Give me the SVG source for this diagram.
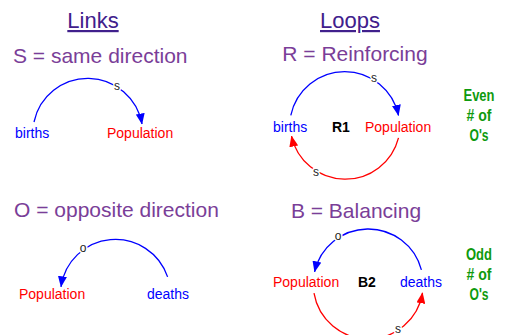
<svg xmlns="http://www.w3.org/2000/svg" width="505" height="335" viewBox="0 0 505 335">
<style>
  text { font-family: "Liberation Sans", Arial, sans-serif; }
  .title { font-size: 22px; fill: #40208C; text-decoration: underline; text-anchor: middle; }
  .head { font-size: 21px; fill: #7A3E98; }
  .blue { font-size: 14px; fill: #0000FF; }
  .red { font-size: 14px; fill: #FF0000; }
  .loopname { font-size: 14px; font-weight: bold; fill: #000; }
  .pol { font-size: 12px; fill: #222; text-anchor: middle; stroke: #fff; stroke-width: 3px; paint-order: stroke; }
  .green { font-family: "Liberation Sans Narrow", "Liberation Sans", Arial, sans-serif; font-size: 16px; font-weight: bold; fill: #0E9A0E; text-anchor: middle; }
  .cb { fill: none; stroke: #0000FF; stroke-width: 1.3; marker-end: url(#ab); }
  .cr { fill: none; stroke: #FF0000; stroke-width: 1.3; marker-end: url(#ar); }
</style>
<defs>
  <marker id="ab" markerUnits="userSpaceOnUse" markerWidth="11" markerHeight="9" refX="10.5" refY="4.5" orient="auto">
    <path d="M0,0 L11,4.5 L0,9 z" fill="#0000FF"/>
  </marker>
  <marker id="ar" markerUnits="userSpaceOnUse" markerWidth="11" markerHeight="9" refX="10.5" refY="4.5" orient="auto">
    <path d="M0,0 L11,4.5 L0,9 z" fill="#FF0000"/>
  </marker>
</defs>

<rect width="505" height="335" fill="#fff"/>

<g id="headings">
  <text class="title" x="93" y="28">Links</text>
  <text class="title" x="350" y="28">Loops</text>
  <text class="head" x="13" y="63">S = same direction</text>
  <text class="head" x="355" y="61" text-anchor="middle">R = Reinforcing</text>
  <text class="head" x="14" y="217">O = opposite direction</text>
  <text class="head" x="356" y="218" text-anchor="middle">B = Balancing</text>
</g>

<g id="connectors">
  <!-- Links: S -->
  <path class="cb" d="M 34 122 A 55 55 0 0 1 142 124"/>
  <!-- Links: O -->
  <path class="cb" d="M 167.6 276.9 A 55 55 0 0 0 61 286.8"/>
  <!-- R1 loop -->
  <path class="cb" d="M 290.8 115.4 A 55 55 0 0 1 398.5 115.4"/>
  <path class="cr" d="M 398.5 137.8 A 55 55 0 0 1 291.5 136.1"/>
  <!-- B2 loop -->
  <path class="cb" d="M 421.4 269.9 A 55 55 0 0 0 314.6 271.8"/>
  <path class="cr" d="M 314 293.2 A 55 55 0 0 0 422.5 292.8"/>
</g>

<g id="polarities">
  <text class="pol" x="117" y="90">s</text>
  <text class="pol" x="83" y="252">o</text>
  <text class="pol" x="374" y="82">s</text>
  <text class="pol" x="316" y="176">s</text>
  <text class="pol" x="338" y="240">o</text>
  <text class="pol" x="398" y="333">s</text>
</g>

<g id="node-links-births"><text class="blue" x="15" y="138">births</text></g>
<g id="node-links-population"><text class="red" x="107" y="138">Population</text></g>
<g id="node-links-population2"><text class="red" x="19" y="299">Population</text></g>
<g id="node-links-deaths"><text class="blue" x="147" y="299">deaths</text></g>

<g id="node-r1-births"><text class="blue" x="273" y="132">births</text></g>
<g id="node-r1-label"><text class="loopname" x="332" y="132">R1</text></g>
<g id="node-r1-population"><text class="red" x="365" y="132">Population</text></g>

<g id="node-b2-population"><text class="red" x="273" y="287">Population</text></g>
<g id="node-b2-label"><text class="loopname" x="358" y="287">B2</text></g>
<g id="node-b2-deaths"><text class="blue" x="400" y="287">deaths</text></g>

<g id="note-even">
  <text class="green" x="479" y="101" textLength="31" lengthAdjust="spacingAndGlyphs">Even</text>
  <text class="green" x="479" y="121" textLength="25" lengthAdjust="spacingAndGlyphs"># of</text>
  <text class="green" x="479" y="141" textLength="19" lengthAdjust="spacingAndGlyphs">O's</text>
</g>
<g id="note-odd">
  <text class="green" x="479" y="260" textLength="26" lengthAdjust="spacingAndGlyphs">Odd</text>
  <text class="green" x="479" y="280" textLength="25" lengthAdjust="spacingAndGlyphs"># of</text>
  <text class="green" x="479" y="300" textLength="19" lengthAdjust="spacingAndGlyphs">O's</text>
</g>
</svg>
